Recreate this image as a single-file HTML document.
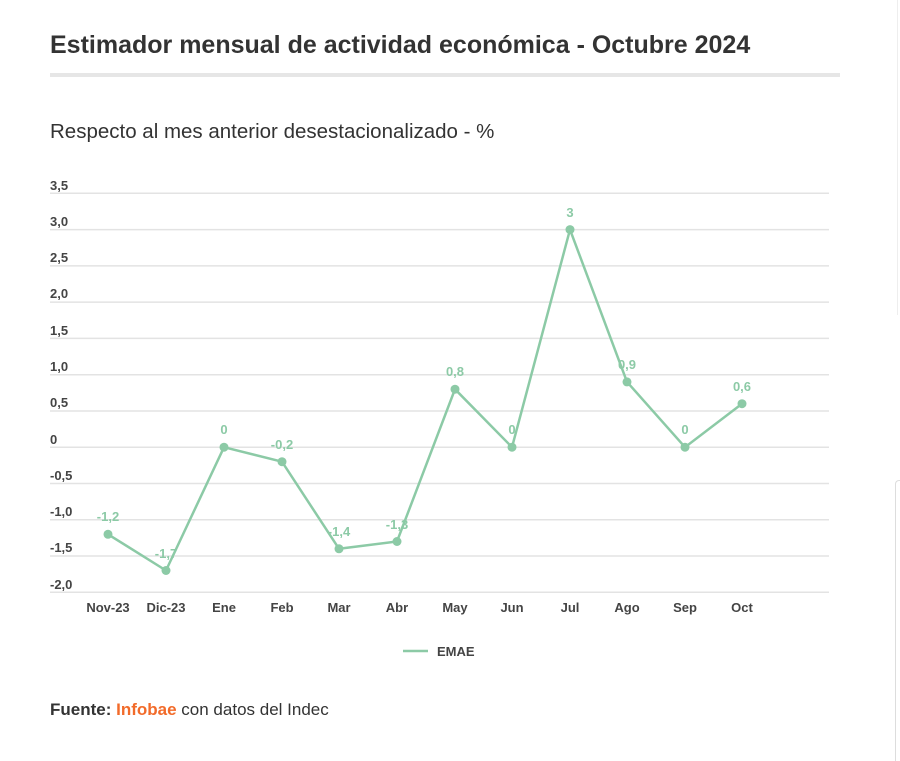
<!DOCTYPE html>
<html><head><meta charset="utf-8"><style>
body{margin:0;width:900px;height:750px;background:#fff;overflow:hidden;font-family:"Liberation Sans",sans-serif;position:relative}
.t{position:absolute;left:50px;top:31px;font-size:25px;font-weight:bold;color:#333;white-space:nowrap}
.bar{position:absolute;left:50px;top:73px;width:790px;height:4px;background:#e6e6e6}
.s{position:absolute;left:50px;top:120px;font-size:20.5px;color:#333;white-space:nowrap}
.f{position:absolute;left:50px;top:700px;font-size:17px;color:#333;white-space:nowrap}
</style></head><body>
<div class="t">Estimador mensual de actividad económica - Octubre 2024</div>
<div class="bar"></div>
<div class="s">Respecto al mes anterior desestacionalizado - %</div>
<div style="position:absolute;left:897px;top:0;width:1px;height:315px;background:#eee"></div>
<div style="position:absolute;left:895px;top:480px;width:10px;height:280px;border-left:1px solid #ddd;border-top:1px solid #ddd;border-radius:4px 0 0 0"></div>
<svg width="900" height="750" style="position:absolute;left:0;top:0" font-family="Liberation Sans, sans-serif">
<g stroke="#e3e3e3" stroke-width="1.5">
<line x1="50" x2="829" y1="193.3" y2="193.3"/><line x1="50" x2="829" y1="229.6" y2="229.6"/><line x1="50" x2="829" y1="265.9" y2="265.9"/><line x1="50" x2="829" y1="302.1" y2="302.1"/><line x1="50" x2="829" y1="338.4" y2="338.4"/><line x1="50" x2="829" y1="374.7" y2="374.7"/><line x1="50" x2="829" y1="411" y2="411"/><line x1="50" x2="829" y1="447.2" y2="447.2"/><line x1="50" x2="829" y1="483.5" y2="483.5"/><line x1="50" x2="829" y1="519.8" y2="519.8"/><line x1="50" x2="829" y1="556" y2="556"/><line x1="50" x2="829" y1="592.3" y2="592.3"/>
</g>
<g font-size="13" fill="#444" font-weight="bold">
<text x="50" y="190">3,5</text><text x="50" y="226">3,0</text><text x="50" y="262">2,5</text><text x="50" y="298">2,0</text><text x="50" y="335">1,5</text><text x="50" y="371">1,0</text><text x="50" y="407">0,5</text><text x="50" y="444">0</text><text x="50" y="480">-0,5</text><text x="50" y="516">-1,0</text><text x="50" y="552">-1,5</text><text x="50" y="589">-2,0</text>
</g>
<g font-size="13" fill="#444" text-anchor="middle" font-weight="bold">
<text x="108" y="612">Nov-23</text><text x="166" y="612">Dic-23</text><text x="224" y="612">Ene</text><text x="282" y="612">Feb</text><text x="339" y="612">Mar</text><text x="397" y="612">Abr</text><text x="455" y="612">May</text><text x="512" y="612">Jun</text><text x="570" y="612">Jul</text><text x="627" y="612">Ago</text><text x="685" y="612">Sep</text><text x="742" y="612">Oct</text>
</g>
<polyline fill="none" stroke="#8ccaa6" stroke-width="2.5" points="108,534.3 166,570.5 224,447.2 282,461.7 339,548.8 397,541.5 455,389.2 512,447.2 570,229.6 627,381.9 685,447.2 742,403.7"/>
<g fill="#8ccaa6">
<circle cx="108" cy="534.3" r="4.5"/><circle cx="166" cy="570.5" r="4.5"/><circle cx="224" cy="447.2" r="4.5"/><circle cx="282" cy="461.7" r="4.5"/><circle cx="339" cy="548.8" r="4.5"/><circle cx="397" cy="541.5" r="4.5"/><circle cx="455" cy="389.2" r="4.5"/><circle cx="512" cy="447.2" r="4.5"/><circle cx="570" cy="229.6" r="4.5"/><circle cx="627" cy="381.9" r="4.5"/><circle cx="685" cy="447.2" r="4.5"/><circle cx="742" cy="403.7" r="4.5"/>
</g>
<g font-size="13" fill="#8ccaa6" text-anchor="middle" font-weight="bold">
<text x="108" y="521">-1,2</text><text x="166" y="558">-1,7</text><text x="224" y="434">0</text><text x="282" y="449">-0,2</text><text x="339" y="536">-1,4</text><text x="397" y="529">-1,3</text><text x="455" y="376">0,8</text><text x="512" y="434">0</text><text x="570" y="217">3</text><text x="627" y="369">0,9</text><text x="685" y="434">0</text><text x="742" y="391">0,6</text>
</g>
<line x1="403" x2="428" y1="651" y2="651" stroke="#8ccaa6" stroke-width="2.5"/>
<text x="437" y="656" font-size="13" fill="#444" font-weight="bold">EMAE</text>
</svg>
<div class="f"><b>Fuente:</b> <b style="color:#f26b2a">Infobae</b> con datos del Indec</div>
</body></html>
